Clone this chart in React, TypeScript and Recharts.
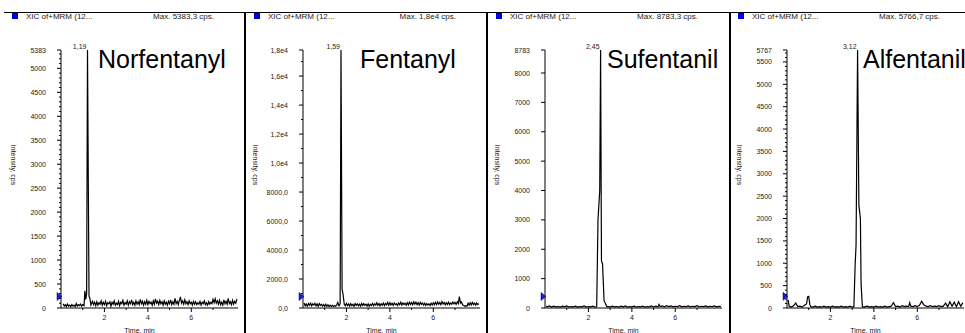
import React from 'react';
import { LineChart, Line, XAxis, YAxis, ReferenceDot, Label } from 'recharts';

// [time (min), intensity (cps)]
const norfentanylTrace: [number, number][] = [
  [0.1, 90], [0.15, 40], [0.2, 70], [0.25, 30], [0.3, 80], [0.35, 40], [0.4, 60], [0.45, 30], [0.5, 70],
  [0.55, 40], [0.6, 60], [0.65, 30], [0.7, 90], [0.75, 40], [0.8, 70], [0.85, 50], [0.9, 80], [0.95, 40],
  [1.0, 70], [1.06, 50], [1.1, 360], [1.14, 180], [1.18, 300], [1.22, 5383], [1.29, 250], [1.33, 200],
  [1.38, 60], [1.45, 140], [1.5, 70], [1.55, 120], [1.6, 50], [1.65, 130], [1.7, 60], [1.75, 110],
  [1.8, 80], [1.85, 150], [1.9, 60], [1.95, 120], [2.0, 70], [2.05, 140], [2.1, 50], [2.15, 110],
  [2.2, 90], [2.25, 130], [2.3, 40], [2.35, 120], [2.4, 80], [2.45, 150], [2.5, 60], [2.55, 100],
  [2.6, 70], [2.65, 140], [2.7, 50], [2.75, 120], [2.8, 90], [2.85, 160], [2.9, 60], [2.95, 110],
  [3.0, 80], [3.05, 150], [3.1, 60], [3.15, 130], [3.2, 90], [3.25, 170], [3.3, 70], [3.35, 120],
  [3.4, 60], [3.45, 150], [3.5, 80], [3.55, 130], [3.6, 70], [3.65, 180], [3.7, 90], [3.75, 140],
  [3.8, 60], [3.85, 130], [3.9, 80], [3.95, 160], [4.0, 70], [4.05, 140], [4.1, 90], [4.15, 120],
  [4.2, 60], [4.25, 150], [4.3, 80], [4.35, 190], [4.4, 100], [4.45, 140], [4.5, 70], [4.55, 160],
  [4.6, 90], [4.65, 130], [4.7, 60], [4.75, 150], [4.8, 80], [4.85, 120], [4.9, 60], [4.95, 140],
  [5.0, 90], [5.05, 170], [5.1, 70], [5.15, 130], [5.2, 80], [5.25, 200], [5.3, 90], [5.35, 140],
  [5.4, 70], [5.45, 160], [5.5, 230], [5.55, 100], [5.6, 150], [5.65, 80], [5.7, 170], [5.75, 90],
  [5.8, 130], [5.85, 70], [5.9, 150], [5.95, 90], [6.0, 120], [6.05, 60], [6.1, 140], [6.15, 80],
  [6.2, 130], [6.25, 70], [6.3, 110], [6.35, 80], [6.4, 140], [6.45, 60], [6.5, 120], [6.55, 90],
  [6.6, 150], [6.65, 70], [6.7, 110], [6.75, 60], [6.8, 130], [6.85, 80], [6.9, 120], [6.95, 90],
  [7.0, 180], [7.05, 110], [7.1, 190], [7.15, 100], [7.2, 150], [7.25, 80], [7.3, 160], [7.35, 70],
  [7.4, 120], [7.45, 60], [7.5, 170], [7.55, 90], [7.6, 140], [7.65, 80], [7.7, 200], [7.75, 90],
  [7.8, 130], [7.85, 70], [7.9, 160], [7.95, 80], [8.0, 140], [8.05, 100], [8.1, 190],
];

const fentanylTrace: [number, number][] = [
  [0.05, 350], [0.1, 150], [0.15, 280], [0.2, 120], [0.25, 300], [0.3, 180], [0.35, 330], [0.4, 150],
  [0.45, 290], [0.5, 200], [0.55, 320], [0.6, 140], [0.65, 280], [0.7, 120], [0.75, 300], [0.8, 170],
  [0.85, 260], [0.9, 130], [0.95, 240], [1.0, 110], [1.05, 260], [1.1, 120], [1.15, 220], [1.2, 100],
  [1.25, 200], [1.3, 110], [1.35, 180], [1.4, 100], [1.45, 160], [1.5, 120], [1.55, 200], [1.6, 380],
  [1.66, 150], [1.71, 300], [1.75, 17800], [1.8, 1300], [1.84, 1000], [1.9, 250], [1.95, 150],
  [2.0, 330], [2.05, 170], [2.1, 280], [2.15, 130], [2.2, 300], [2.25, 160], [2.3, 250], [2.35, 120],
  [2.4, 310], [2.45, 180], [2.5, 290], [2.55, 150], [2.6, 270], [2.65, 130], [2.7, 320], [2.75, 170],
  [2.8, 300], [2.85, 190], [2.9, 260], [2.95, 140], [3.0, 280], [3.05, 120], [3.1, 250], [3.15, 170],
  [3.2, 320], [3.25, 160], [3.3, 290], [3.35, 200], [3.4, 360], [3.45, 180], [3.5, 310], [3.55, 150],
  [3.6, 290], [3.65, 200], [3.7, 340], [3.75, 170], [3.8, 310], [3.85, 220], [3.9, 380], [3.95, 190],
  [4.0, 360], [4.05, 210], [4.1, 330], [4.15, 180], [4.2, 350], [4.25, 230], [4.3, 300], [4.35, 170],
  [4.4, 340], [4.45, 220], [4.5, 390], [4.55, 200], [4.6, 350], [4.65, 240], [4.7, 320], [4.75, 190],
  [4.8, 360], [4.85, 210], [4.9, 400], [4.95, 250], [5.0, 380], [5.05, 220], [5.1, 420], [5.15, 260],
  [5.2, 400], [5.25, 230], [5.3, 370], [5.35, 210], [5.4, 390], [5.45, 250], [5.5, 340], [5.55, 200],
  [5.6, 330], [5.65, 180], [5.7, 310], [5.75, 200], [5.8, 290], [5.85, 170], [5.9, 330], [5.95, 210],
  [6.0, 360], [6.05, 220], [6.1, 390], [6.15, 240], [6.2, 420], [6.25, 260], [6.3, 380], [6.35, 230],
  [6.4, 440], [6.45, 270], [6.5, 380], [6.55, 220], [6.6, 360], [6.65, 240], [6.7, 400], [6.75, 230],
  [6.8, 350], [6.85, 260], [6.9, 410], [6.95, 280], [7.0, 390], [7.05, 250], [7.1, 430], [7.15, 300],
  [7.2, 780], [7.25, 330], [7.3, 420], [7.35, 220], [7.4, 180], [7.45, 120], [7.5, 160], [7.55, 130],
  [7.6, 330], [7.65, 190], [7.7, 360], [7.75, 210], [7.8, 380], [7.85, 230], [7.9, 340], [7.95, 200],
  [8.0, 350], [8.05, 240], [8.1, 300],
];

const sufentanilTrace: [number, number][] = [
  [0.05, 60], [0.1, 40], [0.2, 70], [0.3, 30], [0.4, 60], [0.5, 40], [0.6, 50], [0.7, 30], [0.8, 60],
  [0.9, 40], [1.0, 70], [1.1, 30], [1.2, 50], [1.3, 40], [1.4, 60], [1.5, 30], [1.6, 50], [1.7, 40],
  [1.8, 70], [1.9, 30], [2.0, 50], [2.1, 40], [2.2, 60], [2.3, 30], [2.38, 40], [2.44, 3000],
  [2.52, 4000], [2.56, 8783], [2.6, 1600], [2.65, 1500], [2.72, 250], [2.85, 40], [2.95, 50],
  [3.0, 30], [3.1, 60], [3.2, 40], [3.3, 50], [3.4, 30], [3.5, 60], [3.6, 40], [3.7, 70], [3.8, 30],
  [3.9, 50], [4.0, 40], [4.1, 60], [4.2, 30], [4.3, 50], [4.4, 40], [4.5, 60], [4.6, 30], [4.7, 50],
  [4.8, 40], [4.9, 70], [5.0, 30], [5.1, 60], [5.2, 40], [5.25, 120], [5.3, 50], [5.4, 70], [5.5, 40],
  [5.6, 80], [5.7, 50], [5.8, 70], [5.9, 40], [6.0, 60], [6.1, 50], [6.2, 80], [6.3, 40], [6.4, 60],
  [6.5, 50], [6.6, 70], [6.7, 40], [6.8, 60], [6.9, 50], [7.0, 80], [7.1, 40], [7.2, 60], [7.3, 50],
  [7.4, 70], [7.5, 40], [7.6, 60], [7.7, 50], [7.8, 70], [7.9, 40], [8.0, 60], [8.1, 50],
];

const alfentanilTrace: [number, number][] = [
  [0.05, 180], [0.1, 40], [0.2, 20], [0.3, 50], [0.4, 110], [0.5, 30], [0.6, 40], [0.7, 20], [0.8, 60],
  [0.9, 90], [0.95, 250], [1.0, 260], [1.05, 80], [1.1, 30], [1.2, 20], [1.3, 40], [1.4, 20], [1.5, 30],
  [1.6, 20], [1.7, 40], [1.8, 20], [1.9, 30], [2.0, 20], [2.1, 40], [2.2, 20], [2.3, 30], [2.4, 20],
  [2.5, 40], [2.6, 20], [2.7, 30], [2.8, 20], [2.9, 40], [3.0, 20], [3.08, 30], [3.14, 1000],
  [3.18, 1400], [3.25, 5767], [3.31, 2300], [3.38, 2000], [3.41, 550], [3.47, 30], [3.55, 20],
  [3.6, 30], [3.7, 40], [3.8, 20], [3.9, 30], [4.0, 20], [4.1, 40], [4.2, 20], [4.3, 30], [4.4, 20],
  [4.5, 40], [4.6, 20], [4.7, 30], [4.8, 40], [4.9, 120], [5.0, 30], [5.1, 40], [5.2, 20], [5.3, 50],
  [5.4, 30], [5.5, 40], [5.6, 30], [5.65, 120], [5.7, 40], [5.8, 30], [5.9, 50], [6.0, 30], [6.1, 60],
  [6.2, 150], [6.25, 110], [6.3, 70], [6.4, 40], [6.5, 30], [6.6, 50], [6.7, 30], [6.8, 40], [6.9, 30],
  [7.0, 50], [7.1, 30], [7.2, 40], [7.3, 110], [7.4, 30], [7.5, 140], [7.6, 40], [7.7, 130], [7.8, 30],
  [7.9, 140], [8.0, 40], [8.1, 120],
];

const traces = [norfentanylTrace, fentanylTrace, sufentanilTrace, alfentanilTrace];

const compoundNames = ['Norfentanyl', 'Fentanyl', 'Sufentanil', 'Alfentanil'];
const headerLabels = ['XIC of+MRM (12...', 'XIC of+MRM (12...', 'XIC of+MRM (12...', 'XIC of+MRM (12...'];
const maxLabels = ['Max. 5383,3 cps.', 'Max. 1,8e4 cps.', 'Max. 8783,3 cps.', 'Max. 5766,7 cps.'];
const peakTimes = [1.22, 1.75, 2.56, 3.25];
const peakLabels = ['1,19', '1,59', '2,45', '3,12'];
const yMaxValues = [5383, 17800, 8783, 5767];
const thresholdLevels = [240, 790, 390, 260];

const yMajorTicks = [
  [0, 500, 1000, 1500, 2000, 2500, 3000, 3500, 4000, 4500, 5000, 5383],
  [0, 2000, 4000, 6000, 8000, 10000, 12000, 14000, 16000, 17800],
  [0, 1000, 2000, 3000, 4000, 5000, 6000, 7000, 8000, 8783],
  [0, 500, 1000, 1500, 2000, 2500, 3000, 3500, 4000, 4500, 5000, 5500, 5767],
];
const yMajorLabels = [
  ['0', '500', '1000', '1500', '2000', '2500', '3000', '3500', '4000', '4500', '5000', '5383'],
  ['0,0', '2000,0', '4000,0', '6000,0', '8000,0', '1,0e4', '1,2e4', '1,4e4', '1,6e4', '1,8e4'],
  ['0', '1000', '2000', '3000', '4000', '5000', '6000', '7000', '8000', '8783'],
  ['0', '500', '1000', '1500', '2000', '2500', '3000', '3500', '4000', '4500', '5000', '5500', '5767'],
];
const yMinorSteps = [100, 1000, 0, 100];

const xTicks = [1, 2, 3, 4, 5, 6, 7];
const xTickLabels = ['', '2', '', '4', '', '6', ''];

const PANEL_W = 242;
const PANEL_H = 345;
const panelLefts = [3, 245, 487, 729];
const nameX = [95, 115, 120, 134];
const FONT = '"Liberation Sans", Arial, sans-serif';
const TEXT = '#222';

function Panel({ index }: { index: number }) {
  const data = traces[index].map(([t, v]) => ({ t, v }));
  const yMax = yMaxValues[index];
  const labelMap = new Map<number, string>();
  yMajorTicks[index].forEach((v, i) => labelMap.set(v, yMajorLabels[index][i]));
  const step = yMinorSteps[index];
  const yTicks = [...yMajorTicks[index]];
  if (step > 0) {
    for (let v = step; v < yMax; v += step) if (!labelMap.has(v)) yTicks.push(v);
  }
  yTicks.sort((a, b) => a - b);

  const yTick = (p: any) => {
    const label = labelMap.get(p.payload.value);
    const major = label !== undefined;
    return (
      <g>
        <line x1={p.x - (major ? 4 : 2)} x2={p.x} y1={p.y} y2={p.y} stroke="#000" />
        {major && (
          <text x={p.x - 15} y={p.y + 2.5} textAnchor="end" fontSize={7} fill={TEXT}>
            {label}
          </text>
        )}
      </g>
    );
  };

  const xTick = (p: any) => {
    const label = xTickLabels[xTicks.indexOf(p.payload.value)];
    return (
      <g>
        <line x1={p.x} x2={p.x} y1={p.y} y2={p.y + (label ? 4 : 2)} stroke="#000" />
        {label && (
          <text x={p.x} y={p.y + 12} textAnchor="middle" fontSize={7} fill={TEXT}>
            {label}
          </text>
        )}
      </g>
    );
  };

  return (
    <div style={{ position: 'absolute', left: panelLefts[index], top: 0, width: PANEL_W, height: PANEL_H }}>
      <LineChart width={PANEL_W} height={PANEL_H} data={data} margin={{ top: 50, right: 7, bottom: 12, left: 0 }}>
        <XAxis
          dataKey="t"
          type="number"
          domain={[0, 8.15]}
          allowDataOverflow
          ticks={xTicks}
          interval={0}
          tickSize={0}
          tickMargin={0}
          tickLine={false}
          height={25}
          stroke="#000"
          tick={xTick}
          label={
            <Label
              content={(props: any) => {
                const vb = props.viewBox;
                return (
                  <text x={vb.x + vb.width / 2 - 10} y={vb.y + 25} textAnchor="middle" fontSize={7} fill={TEXT}>
                    Time, min
                  </text>
                );
              }}
            />
          }
        />
        <YAxis
          type="number"
          domain={[0, yMax]}
          ticks={yTicks}
          interval={0}
          width={58}
          tickSize={0}
          tickMargin={0}
          tickLine={false}
          stroke="#000"
          tick={yTick}
          label={
            <Label
              content={(props: any) => {
                const vb = props.viewBox;
                const cx = vb.x + 10;
                const cy = vb.y + vb.height / 2 - 14;
                return (
                  <text x={cx} y={cy} transform={`rotate(90 ${cx} ${cy})`} textAnchor="middle" dominantBaseline="central" fontSize={7} fill={TEXT}>
                    Intensity, cps
                  </text>
                );
              }}
            />
          }
        />
        <Line dataKey="v" type="linear" dot={false} stroke="#000" strokeWidth={1.2} isAnimationActive={false} />
        <ReferenceDot
          x={0}
          y={thresholdLevels[index]}
          r={0}
          shape={(p: any) => (
            <polygon points={`${p.cx - 4},${p.cy - 4} ${p.cx + 1},${p.cy} ${p.cx - 4},${p.cy + 4}`} fill="#1a1ad8" stroke="#000060" strokeWidth={0.5} />
          )}
        />
        <ReferenceDot
          x={peakTimes[index]}
          y={yMax}
          r={0}
          shape={(p: any) => (
            <text x={p.cx - 1} y={p.cy - 1} textAnchor="end" fontSize={7} fill={TEXT}>
              {peakLabels[index]}
            </text>
          )}
        />
      </LineChart>
      <svg width={PANEL_W} height={PANEL_H} style={{ position: 'absolute', left: 0, top: 0, pointerEvents: 'none' }}>
        <rect x={9} y={13} width={6} height={6} fill="#0000e8" />
        <text x={23} y={19} fontSize={8} fill={TEXT}>{headerLabels[index]}</text>
        <text x={211} y={19} fontSize={8} fill={TEXT} textAnchor="end">{maxLabels[index]}</text>
        <text x={nameX[index]} y={68} fontSize={25} fill="#000">{compoundNames[index]}</text>
      </svg>
    </div>
  );
}

export default function App() {
  return (
    <div
      style={{
        position: 'absolute',
        left: 0,
        top: 0,
        width: 965,
        height: 333,
        overflow: 'hidden',
        background: '#fff',
        fontFamily: FONT,
      }}
    >
      {[0, 1, 2, 3].map((i) => (
        <Panel key={i} index={i} />
      ))}
      <svg width={965} height={333} style={{ position: 'absolute', left: 0, top: 0, pointerEvents: 'none' }}>
        <line x1={4} x2={965} y1={12.5} y2={12.5} stroke="#000" />
        <line x1={245} x2={245} y1={12} y2={333} stroke="#000" strokeWidth={2} />
        <line x1={487} x2={487} y1={12} y2={333} stroke="#000" strokeWidth={2} />
        <line x1={730} x2={730} y1={12} y2={333} stroke="#000" strokeWidth={2} />
      </svg>
    </div>
  );
}
